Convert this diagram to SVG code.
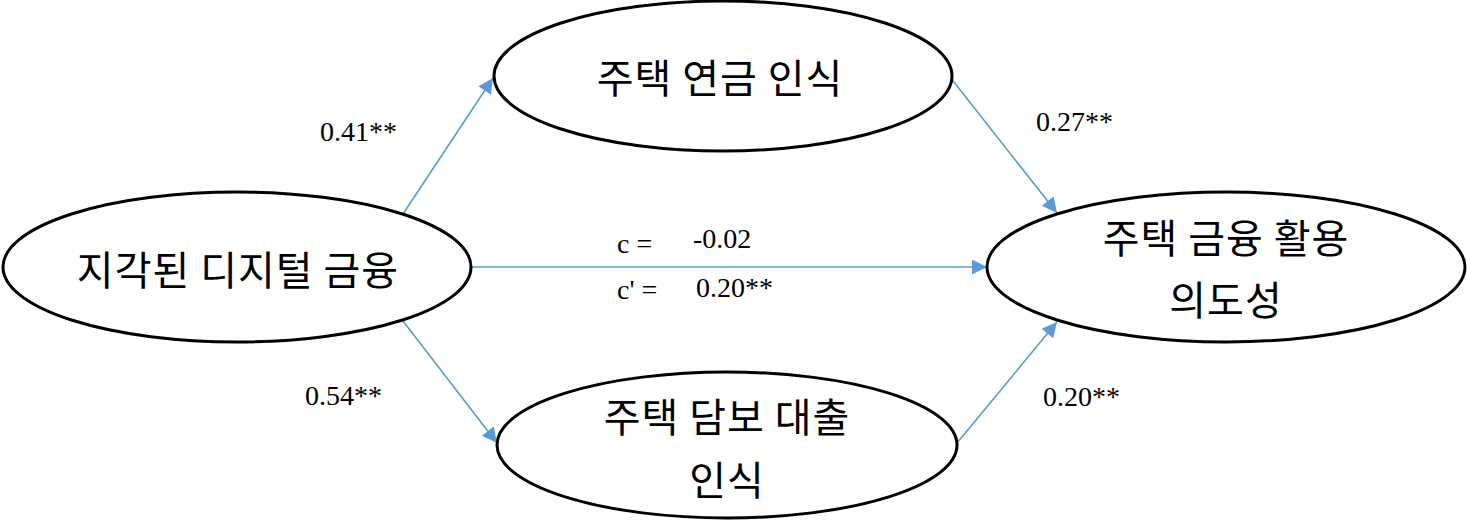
<svg xmlns="http://www.w3.org/2000/svg" width="1467" height="522" viewBox="0 0 1467 522">
<style>
.node ellipse{fill:#fff;stroke:#000;stroke-width:3}
.kt{font-family:"Malgun Gothic","Noto Sans CJK KR",sans-serif;font-size:40px;letter-spacing:1px;fill:#000;text-anchor:middle}
.lb{font-family:"Liberation Serif","Times New Roman",serif;font-size:28px;fill:#000}
.edge{stroke:#5B9BD5;stroke-width:1.6;fill:none;marker-end:url(#ah)}
</style>
<defs>
<marker id="ah" viewBox="0 0 10 10" refX="10" refY="5" markerWidth="20" markerHeight="15" markerUnits="userSpaceOnUse" orient="auto">
<path d="M0,0 L10,5 L0,10 z" fill="#5B9BD5"/>
</marker>
</defs>
<rect width="1467" height="522" fill="#fff"/>
<g id="connectors">
<line class="edge" x1="403" y1="214" x2="493" y2="78"/>
<line class="edge" x1="950" y1="77" x2="1057" y2="213"/>
<line class="edge" x1="472" y1="267" x2="987" y2="267"/>
<line class="edge" x1="403" y1="321" x2="497" y2="443"/>
<line class="edge" x1="957" y1="443" x2="1057" y2="322"/>
</g>
<g id="node-digital" class="node">
<ellipse cx="237" cy="267" rx="234" ry="75"/>
<text class="kt" x="238" y="285">지각된 디지털 금융</text>
</g>
<g id="node-pension" class="node">
<ellipse cx="723" cy="76" rx="229" ry="75"/>
<text class="kt" x="720" y="93">주택 연금 인식</text>
</g>
<g id="node-mortgage" class="node">
<ellipse cx="727" cy="445" rx="230" ry="73"/>
<text class="kt" x="727" y="432">주택 담보 대출</text>
<text class="kt" x="727" y="495">인식</text>
</g>
<g id="node-intention" class="node">
<ellipse cx="1226" cy="267" rx="239" ry="75"/>
<text class="kt" x="1226" y="253">주택 금융 활용</text>
<text class="kt" x="1226" y="315">의도성</text>
</g>
<g id="labels">
<text class="lb" x="320" y="141">0.41**</text>
<text class="lb" x="1036" y="131">0.27**</text>
<text class="lb" x="305" y="405">0.54**</text>
<text class="lb" x="1043" y="406">0.20**</text>
<text class="lb" x="617" y="253">c =</text>
<text class="lb" x="693" y="248">-0.02</text>
<text class="lb" x="617" y="299">c' =</text>
<text class="lb" x="696" y="297">0.20**</text>
</g>
</svg>
